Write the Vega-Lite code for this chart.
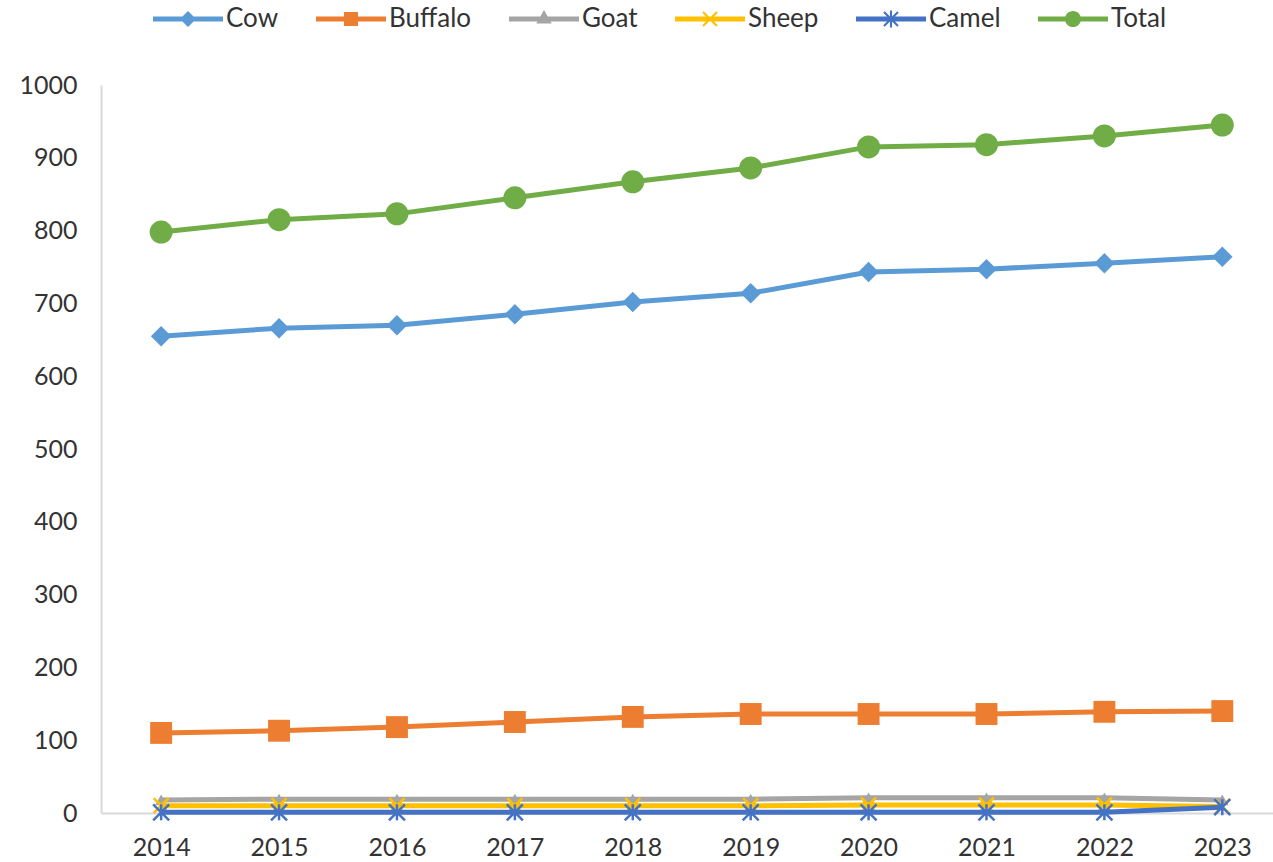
{
  "$schema": "https://vega.github.io/schema/vega-lite/v6.json",
  "width": 1172,
  "height": 728,
  "autosize": {"type": "none"},
  "padding": {"left": 101, "top": 85, "right": 0, "bottom": 49},
  "background": "white",
  "config": {
    "view": {"stroke": null},
    "axis": {"labelFont": "Lato", "labelFontSize": 25, "labelColor": "#333333", "grid": false, "ticks": false, "domainColor": "#d9d9d9", "domainWidth": 2, "title": null},
    "legend": {
      "orient": "none", "legendX": 52, "legendY": -101, "direction": "horizontal", "title": null,
      "symbolSize": 4900, "symbolStrokeWidth": 0, "labelFont": "Lato", "labelFontSize": 26,
      "labelColor": "#333333", "columnPadding": 37, "labelOffset": 3
    }
  },
  "data": {"values": [
    {"year": 2014, "animal": "Cow", "value": 655}, {"year": 2015, "animal": "Cow", "value": 666}, {"year": 2016, "animal": "Cow", "value": 670}, {"year": 2017, "animal": "Cow", "value": 685}, {"year": 2018, "animal": "Cow", "value": 702}, {"year": 2019, "animal": "Cow", "value": 714}, {"year": 2020, "animal": "Cow", "value": 743}, {"year": 2021, "animal": "Cow", "value": 747}, {"year": 2022, "animal": "Cow", "value": 755}, {"year": 2023, "animal": "Cow", "value": 764},
    {"year": 2014, "animal": "Buffalo", "value": 110}, {"year": 2015, "animal": "Buffalo", "value": 113}, {"year": 2016, "animal": "Buffalo", "value": 118}, {"year": 2017, "animal": "Buffalo", "value": 125}, {"year": 2018, "animal": "Buffalo", "value": 132}, {"year": 2019, "animal": "Buffalo", "value": 136}, {"year": 2020, "animal": "Buffalo", "value": 136}, {"year": 2021, "animal": "Buffalo", "value": 136}, {"year": 2022, "animal": "Buffalo", "value": 139}, {"year": 2023, "animal": "Buffalo", "value": 140},
    {"year": 2014, "animal": "Goat", "value": 18}, {"year": 2015, "animal": "Goat", "value": 19}, {"year": 2016, "animal": "Goat", "value": 19}, {"year": 2017, "animal": "Goat", "value": 19}, {"year": 2018, "animal": "Goat", "value": 19}, {"year": 2019, "animal": "Goat", "value": 19}, {"year": 2020, "animal": "Goat", "value": 21}, {"year": 2021, "animal": "Goat", "value": 21}, {"year": 2022, "animal": "Goat", "value": 21}, {"year": 2023, "animal": "Goat", "value": 18},
    {"year": 2014, "animal": "Sheep", "value": 10}, {"year": 2015, "animal": "Sheep", "value": 10}, {"year": 2016, "animal": "Sheep", "value": 10}, {"year": 2017, "animal": "Sheep", "value": 10}, {"year": 2018, "animal": "Sheep", "value": 10}, {"year": 2019, "animal": "Sheep", "value": 10}, {"year": 2020, "animal": "Sheep", "value": 11}, {"year": 2021, "animal": "Sheep", "value": 11}, {"year": 2022, "animal": "Sheep", "value": 11}, {"year": 2023, "animal": "Sheep", "value": 9},
    {"year": 2014, "animal": "Camel", "value": 1}, {"year": 2015, "animal": "Camel", "value": 1}, {"year": 2016, "animal": "Camel", "value": 1}, {"year": 2017, "animal": "Camel", "value": 1}, {"year": 2018, "animal": "Camel", "value": 1}, {"year": 2019, "animal": "Camel", "value": 1}, {"year": 2020, "animal": "Camel", "value": 1}, {"year": 2021, "animal": "Camel", "value": 1}, {"year": 2022, "animal": "Camel", "value": 1}, {"year": 2023, "animal": "Camel", "value": 8},
    {"year": 2014, "animal": "Total", "value": 798}, {"year": 2015, "animal": "Total", "value": 815}, {"year": 2016, "animal": "Total", "value": 823}, {"year": 2017, "animal": "Total", "value": 845}, {"year": 2018, "animal": "Total", "value": 867}, {"year": 2019, "animal": "Total", "value": 886}, {"year": 2020, "animal": "Total", "value": 915}, {"year": 2021, "animal": "Total", "value": 918}, {"year": 2022, "animal": "Total", "value": 930}, {"year": 2023, "animal": "Total", "value": 945}
  ]},
  "encoding": {
    "x": {"field": "year", "type": "quantitative", "scale": {"domain": [2013.49, 2023.43], "nice": false, "zero": false},
          "axis": {"values": [2014, 2015, 2016, 2017, 2018, 2019, 2020, 2021, 2022, 2023], "format": "d", "labelPadding": 22}},
    "y": {"field": "value", "type": "quantitative", "scale": {"domain": [0, 1000], "nice": false},
          "axis": {"values": [0, 100, 200, 300, 400, 500, 600, 700, 800, 900, 1000], "format": "d", "labelPadding": 24}}
  },
  "layer": [
    {"transform": [{"filter": "datum.animal === 'Cow'"}], "mark": {"type": "line", "color": "#5B9BD5", "strokeWidth": 5}},
    {"transform": [{"filter": "datum.animal === 'Cow'"}], "mark": {"type": "point", "shape": "diamond", "filled": true, "opacity": 1, "color": "#5B9BD5", "size": 420}},
    {"transform": [{"filter": "datum.animal === 'Buffalo'"}], "mark": {"type": "line", "color": "#ED7D31", "strokeWidth": 5}},
    {"transform": [{"filter": "datum.animal === 'Buffalo'"}], "mark": {"type": "point", "shape": "square", "filled": true, "opacity": 1, "color": "#ED7D31", "size": 480}},
    {"transform": [{"filter": "datum.animal === 'Goat'"}], "mark": {"type": "line", "color": "#A5A5A5", "strokeWidth": 5}},
    {"transform": [{"filter": "datum.animal === 'Goat'"}], "mark": {"type": "point", "shape": "triangle-up", "filled": true, "opacity": 1, "color": "#A5A5A5", "size": 150}},
    {"transform": [{"filter": "datum.animal === 'Sheep'"}], "mark": {"type": "line", "color": "#FFC000", "strokeWidth": 5}},
    {"transform": [{"filter": "datum.animal === 'Sheep'"}], "mark": {"type": "point", "shape": "M-1,-1L1,1M-1,1L1,-1", "filled": false, "opacity": 1, "color": "#FFC000", "strokeWidth": 2.5, "size": 225}},
    {"transform": [{"filter": "datum.animal === 'Camel'"}], "mark": {"type": "line", "color": "#4472C4", "strokeWidth": 5}},
    {"transform": [{"filter": "datum.animal === 'Camel'"}], "mark": {"type": "point", "shape": "M-1,-1L1,1M-1,1L1,-1M0,-1L0,1", "filled": false, "opacity": 1, "color": "#4472C4", "strokeWidth": 2.5, "size": 256}},
    {"transform": [{"filter": "datum.animal === 'Total'"}], "mark": {"type": "line", "color": "#70AD47", "strokeWidth": 5}},
    {"transform": [{"filter": "datum.animal === 'Total'"}], "mark": {"type": "point", "shape": "circle", "filled": true, "opacity": 1, "color": "#70AD47", "size": 529}},
    {
      "mark": {"type": "point", "filled": true, "opacity": 1, "size": 0},
      "encoding": {
        "color": {"field": "animal", "type": "nominal",
                  "scale": {"domain": ["Cow", "Buffalo", "Goat", "Sheep", "Camel", "Total"], "range": ["#5B9BD5", "#ED7D31", "#A5A5A5", "#FFC000", "#4472C4", "#70AD47"]}},
        "shape": {"field": "animal", "type": "nominal",
                  "scale": {"domain": ["Cow", "Buffalo", "Goat", "Sheep", "Camel", "Total"],
                            "range": [
                              "M-1,-0.07H1V0.07H-1Z M0,-0.23L0.23,0L0,0.23L-0.23,0Z",
                              "M-1,-0.07H1V0.07H-1Z M-0.2,-0.2H0.2V0.2H-0.2Z",
                              "M-1,-0.07H1V0.07H-1Z M0,-0.26L0.22,0.13L-0.22,0.13Z",
                              "M-1,-0.07H1V0.07H-1Z M-0.179,-0.221L0.221,0.179L0.179,0.221L-0.221,-0.179Z M-0.221,0.179L0.179,-0.221L0.221,-0.179L-0.179,0.221Z",
                              "M-1,-0.07H1V0.07H-1Z M-0.179,-0.221L0.221,0.179L0.179,0.221L-0.221,-0.179Z M-0.221,0.179L0.179,-0.221L0.221,-0.179L-0.179,0.221Z M-0.03,-0.24H0.03V0.24H-0.03Z",
                              "M-1,-0.07H1V0.07H-1Z M-0.23,0A0.23,0.23 0 1,1 0.23,0A0.23,0.23 0 1,1 -0.23,0Z"
                            ]}}
      }
    }
  ]
}
